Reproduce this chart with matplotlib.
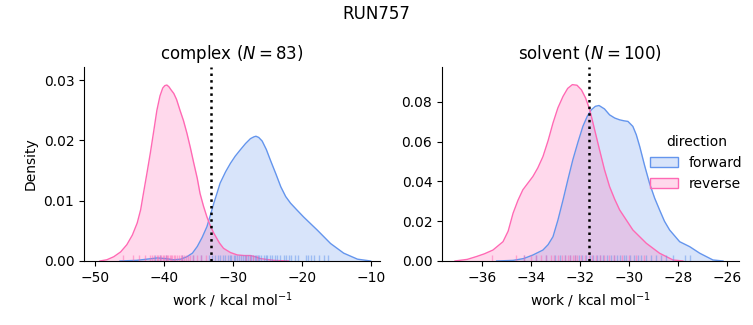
import matplotlib.pyplot as plt
from matplotlib.colors import to_rgba
from matplotlib.patches import Patch

# colours per direction
c_fwd = 'cornflowerblue'
c_rev = 'hotpink'

# KDE curves (work in kcal/mol, density)
cx_fwd_x = [-46.4, -44.0, -42.5, -41.0, -39.8, -38.6, -37.6, -36.7, -35.9, -35.2, -34.5, -33.8, -33.3, -32.8,
            -32.3, -31.9, -31.1, -30.4, -29.7, -29.0, -28.2, -27.5, -27.0, -26.7, -26.3, -25.8, -25.2, -24.6,
            -23.8, -23.1, -22.4, -21.7, -20.8, -19.8, -17.8, -15.9, -14.0, -12.0, -10.1]
cx_fwd_y = [0.0, 0.0001, 0.0003, 0.0005, 0.0004, 0.0002, 0.0003, 0.0007, 0.0013, 0.0024, 0.0039, 0.0057, 0.0076,
            0.0096, 0.0114, 0.0129, 0.0148, 0.0162, 0.0174, 0.0184, 0.0195, 0.0203, 0.0206, 0.0207, 0.0205,
            0.0199, 0.0185, 0.0167, 0.0144, 0.0123, 0.0107, 0.0096, 0.0085, 0.0073, 0.0051, 0.0029, 0.0013,
            0.0003, 0.0]
cx_rev_x = [-49.3, -48.3, -47.3, -46.3, -45.4, -44.6, -43.9, -43.4, -43.0, -42.5, -42.0, -41.5, -41.05, -40.6,
            -40.2, -39.9, -39.6, -39.3, -39.0, -38.6, -38.2, -37.7, -37.2, -36.7, -36.2, -35.7, -35.2, -34.8,
            -34.3, -33.8, -33.3, -32.8, -32.0, -31.4, -30.4, -29.4, -28.4, -27.5, -26.8, -26.1, -24.1, -22.0]
cx_rev_y = [0.0, 0.0002, 0.0007, 0.0015, 0.0027, 0.0043, 0.0063, 0.0085, 0.0112, 0.0145, 0.0179, 0.0216, 0.025,
            0.0274, 0.0287, 0.0291, 0.0292, 0.0289, 0.0284, 0.0278, 0.0268, 0.025, 0.0233, 0.0212, 0.0188,
            0.0162, 0.0137, 0.0112, 0.0091, 0.0073, 0.0058, 0.0046, 0.003, 0.0021, 0.0014, 0.001, 0.0009,
            0.0009, 0.0007, 0.0004, 0.0001, 0.0]
sv_fwd_x = [-35.4, -34.73, -34.3, -33.92, -33.51, -33.30, -33.10, -32.90, -32.69, -32.49, -32.29, -32.08,
            -31.88, -31.70, -31.53, -31.37, -31.22, -31.0, -30.79, -30.58, -30.38, -30.2, -30.04, -29.84,
            -29.70, -29.56, -29.36, -29.16, -28.95, -28.75, -28.55, -28.34, -27.93, -27.52, -27.11, -26.57,
            -26.16]
sv_fwd_y = [0.0, 0.0003, 0.0012, 0.003, 0.0055, 0.0082, 0.0122, 0.0205, 0.0307, 0.0410, 0.0509, 0.0598, 0.0677,
            0.0728, 0.0761, 0.0778, 0.0782, 0.0765, 0.0735, 0.0719, 0.0710, 0.0705, 0.0702, 0.0677, 0.0635,
            0.0576, 0.0480, 0.0391, 0.0316, 0.0257, 0.0200, 0.0156, 0.0097, 0.0072, 0.0039, 0.0005, 0.0]
sv_rev_x = [-37.1, -36.6, -36.23, -35.9, -35.55, -35.14, -34.93, -34.73, -34.53, -34.33, -33.92, -33.72, -33.51,
            -33.30, -33.10, -32.90, -32.69, -32.50, -32.31, -32.12, -31.94, -31.77, -31.60, -31.40, -31.20,
            -31.0, -30.79, -30.58, -30.38, -29.84, -29.29, -28.75, -28.2, -27.8]
sv_rev_y = [0.0, 0.0008, 0.0022, 0.0036, 0.0055, 0.0097, 0.0150, 0.024, 0.0305, 0.0358, 0.0425, 0.0468, 0.0525,
            0.0605, 0.0694, 0.0770, 0.0828, 0.0868, 0.0887, 0.0884, 0.0861, 0.0820, 0.0761, 0.0660, 0.0559,
            0.0460, 0.0374, 0.0310, 0.0257, 0.0156, 0.0089, 0.0039, 0.0005, 0.0]

# rug samples (estimated positions)
cx_fwd_rug = [-41.3, -40.6, -39.7, -37.4, -35.8, -34.6, -33.5, -33.0, -32.6, -32.2, -31.9, -31.5, -31.2, -30.8,
              -30.5, -30.3, -29.9, -29.7, -29.4, -29.1, -28.9, -28.6, -28.3, -28.2, -27.9, -27.6, -27.4, -27.1,
              -26.9, -26.7, -26.4, -26.2, -25.9, -25.6, -25.3, -25.1, -24.7, -24.4, -24.0, -23.7, -23.2, -22.7,
              -22.3, -21.9, -21.6, -21.1, -20.6, -19.5, -19.1, -18.7, -18.3, -17.5, -16.9, -16.2]
cx_rev_rug = [-45.9, -44.5, -43.6, -42.8, -42.1, -41.8, -41.4, -41.1, -40.9, -40.6, -40.4, -40.2, -40.0, -39.8,
              -39.6, -39.4, -39.2, -39.0, -38.8, -38.6, -38.4, -38.2, -37.9, -37.6, -37.4, -37.1, -36.8, -36.6,
              -36.3, -35.8, -35.2, -34.6, -33.9, -28.1, -27.6, -27.2, -26.6]
sv_fwd_rug = [-34.3, -33.8, -33.4, -33.0, -32.8, -32.6, -32.4, -32.2, -32.05, -31.9, -31.75, -31.6, -31.45, -31.3,
              -31.2, -31.05, -30.9, -30.75, -30.6, -30.5, -30.35, -30.2, -30.1, -29.95, -29.8, -29.65, -29.5,
              -29.3, -29.1, -28.9, -28.7, -28.5, -28.2, -27.7, -27.5]
sv_rev_rug = [-35.6, -34.6, -34.3, -34.0, -33.8, -33.6, -33.4, -33.2, -33.05, -32.9, -32.75, -32.6, -32.5, -32.4,
              -32.3, -32.2, -32.1, -31.95, -31.8, -31.65, -31.5, -31.35, -31.2, -31.0, -30.8, -30.6, -30.3,
              -30.0, -29.7, -29.4]

# vertical reference lines
cx_line = -33.2
sv_line = -31.64

fig = plt.figure(figsize=(7.53, 3.25), dpi=100)
ax1 = fig.add_axes([0.1116, 0.197, 0.3934, 0.597])
ax2 = fig.add_axes([0.587, 0.197, 0.394, 0.597])


def draw(ax, fx, fy, rx, ry, frug, rrug, vline):
    ax.fill_between(fx, fy, color=c_fwd, alpha=0.25, lw=0)
    ax.plot(fx, fy, color=c_fwd, lw=1)
    ax.fill_between(rx, ry, color=c_rev, alpha=0.25, lw=0)
    ax.plot(rx, ry, color=c_rev, lw=1)
    tr = ax.get_xaxis_transform()
    ax.vlines(frug, 0, 0.03, transform=tr, color=c_fwd, alpha=0.5, lw=1)
    ax.vlines(rrug, 0, 0.03, transform=tr, color=c_rev, alpha=0.5, lw=1)
    ax.axvline(vline, color='black', ls=':', lw=1.8)
    ax.spines['top'].set_visible(False)
    ax.spines['right'].set_visible(False)
    ax.set_xlabel('work / kcal mol$^{-1}$')


draw(ax1, cx_fwd_x, cx_fwd_y, cx_rev_x, cx_rev_y, cx_fwd_rug, cx_rev_rug, cx_line)
ax1.set_xlim(-51.6, -8.7)
ax1.set_ylim(0, 0.0322)
ax1.set_xticks([-50, -40, -30, -20, -10])
ax1.set_yticks([0.0, 0.01, 0.02, 0.03])
ax1.set_yticklabels(['0.00', '0.01', '0.02', '0.03'])
ax1.set_ylabel('Density')
ax1.set_title('complex ($N = 83$)', fontsize=12)

draw(ax2, sv_fwd_x, sv_fwd_y, sv_rev_x, sv_rev_y, sv_fwd_rug, sv_rev_rug, sv_line)
ax2.set_xlim(-37.63, -25.52)
ax2.set_ylim(0, 0.0976)
ax2.set_xticks([-36, -34, -32, -30, -28, -26])
ax2.set_yticks([0.0, 0.02, 0.04, 0.06, 0.08])
ax2.set_yticklabels(['0.00', '0.02', '0.04', '0.06', '0.08'])
ax2.set_title('solvent ($N = 100$)', fontsize=12)

handles = [Patch(facecolor=to_rgba(c_fwd, 0.25), edgecolor=c_fwd, lw=1),
           Patch(facecolor=to_rgba(c_rev, 0.25), edgecolor=c_rev, lw=1)]
ax2.legend(handles, ['forward', 'reverse'], title='direction', frameon=False,
           loc='upper right', bbox_to_anchor=(1.055, 0.715))

fig.suptitle('RUN757', fontsize=12, y=0.985)
fig.savefig('out.png', dpi=100)
